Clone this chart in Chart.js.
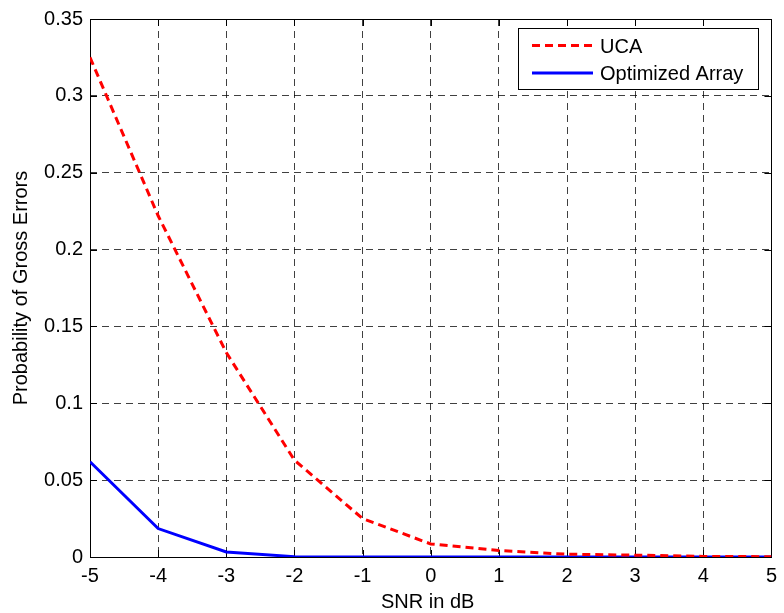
<!DOCTYPE html>
<html>
<head>
<meta charset="utf-8">
<title>Probability of Gross Errors vs SNR</title>
<script src="https://cdn.jsdelivr.net/npm/chart.js@4/dist/chart.umd.min.js"></script>
<style>
  html, body { margin: 0; padding: 0; background: #ffffff; }
  #wrap { width: 784px; height: 613px; position: relative; }
</style>
</head>
<body>
<div id="wrap"><canvas id="chart" width="784" height="613"></canvas></div>
<script>
// SNR sweep (dB) and gross-error probability for each array geometry
const snrDb = [-5, -4, -3, -2, -1, 0, 1, 2, 3, 4, 5];
const ucaErr = [0.325, 0.222, 0.133, 0.063, 0.025, 0.0085, 0.0042, 0.0018, 0.0012, 0.0004, 0.0002];
const optimizedErr = [0.062, 0.0185, 0.0033, 0.0002, 0, 0, 0, 0, 0, 0, 0];

// Axis tick values and their printed labels
const xTickValues = [-5, -4, -3, -2, -1, 0, 1, 2, 3, 4, 5];
const yTickValues = [0, 0.05, 0.1, 0.15, 0.2, 0.25, 0.3, 0.35];
const yTickLabels = ['0', '0.05', '0.1', '0.15', '0.2', '0.25', '0.3', '0.35'];

const seriesNames = ['UCA', 'Optimized Array'];
const xTitle = 'SNR in dB';
const yTitle = 'Probability of Gross Errors';

const FONT = '"Liberation Sans", Arial, Helvetica, sans-serif';

const toPoints = (xs, ys) => xs.map((x, i) => ({ x: x, y: ys[i] }));

// Solid box around the plot, small inward tick marks on all four sides
const framePlugin = {
  id: 'frame',
  beforeDatasetsDraw(chart) {
    const { ctx, chartArea: a, scales } = chart;
    const tl = 7;
    ctx.save();
    ctx.strokeStyle = '#000000';
    ctx.lineWidth = 1;
    ctx.setLineDash([]);
    ctx.beginPath();
    xTickValues.forEach(v => {
      const px = Math.round(scales.x.getPixelForValue(v)) + 0.5;
      ctx.moveTo(px, a.bottom); ctx.lineTo(px, a.bottom - tl);
      ctx.moveTo(px, a.top); ctx.lineTo(px, a.top + tl);
    });
    yTickValues.forEach(v => {
      const py = Math.round(scales.y.getPixelForValue(v)) + 0.5;
      ctx.moveTo(a.left, py); ctx.lineTo(a.left + tl, py);
      ctx.moveTo(a.right, py); ctx.lineTo(a.right - tl, py);
    });
    ctx.stroke();
    ctx.strokeRect(Math.round(a.left) + 0.5, Math.round(a.top) + 0.5,
                   Math.round(a.right - a.left), Math.round(a.bottom - a.top));
    ctx.restore();
  }
};

// Boxed legend in the upper right corner of the plot
const boxLegendPlugin = {
  id: 'boxLegend',
  afterDatasetsDraw(chart) {
    const { ctx } = chart;
    const bx = 518.5, by = 28.5, bw = 240, bh = 61;
    ctx.save();
    ctx.fillStyle = '#ffffff';
    ctx.fillRect(bx, by, bw, bh);
    ctx.strokeStyle = '#000000';
    ctx.lineWidth = 1;
    ctx.setLineDash([]);
    ctx.strokeRect(bx, by, bw, bh);
    const rows = [45.5, 73];
    chart.data.datasets.forEach((ds, i) => {
      const y = rows[i];
      ctx.strokeStyle = ds.borderColor;
      ctx.lineWidth = ds.borderWidth;
      ctx.setLineDash(ds.borderDash || []);
      ctx.beginPath();
      ctx.moveTo(532, y);
      ctx.lineTo(593, y);
      ctx.stroke();
      ctx.setLineDash([]);
      ctx.fillStyle = '#000000';
      ctx.font = '20px ' + FONT;
      ctx.textAlign = 'left';
      ctx.textBaseline = 'middle';
      ctx.fillText(ds.label, 600, y + 1.5);
    });
    ctx.restore();
  }
};

// Axis titles
const titlesPlugin = {
  id: 'axisTitles',
  afterDraw(chart) {
    const { ctx, chartArea: a } = chart;
    ctx.save();
    ctx.fillStyle = '#000000';
    ctx.font = '20px ' + FONT;
    ctx.textAlign = 'center';
    ctx.textBaseline = 'alphabetic';
    ctx.fillText(xTitle, (a.left + a.right) / 2 - 3, 608);
    ctx.translate(27, (a.top + a.bottom) / 2);
    ctx.rotate(-Math.PI / 2);
    ctx.fillText(yTitle, 0, 0);
    ctx.restore();
  }
};

const gridStyle = {
  color: 'rgba(0,0,0,0.75)',
  lineWidth: 1,
  drawTicks: false
};

new Chart(document.getElementById('chart'), {
  type: 'line',
  data: {
    datasets: [
      {
        label: seriesNames[0],
        data: toPoints(snrDb, ucaErr),
        borderColor: '#ff0000',
        borderWidth: 3,
        borderDash: [8, 5],
        pointRadius: 0,
        tension: 0,
        fill: false
      },
      {
        label: seriesNames[1],
        data: toPoints(snrDb, optimizedErr),
        borderColor: '#0000ff',
        borderWidth: 3,
        pointRadius: 0,
        tension: 0,
        fill: false
      }
    ]
  },
  options: {
    responsive: false,
    animation: false,
    events: [],
    layout: { padding: { left: 0, top: 16, right: 10, bottom: 0 } },
    plugins: {
      legend: { display: false },
      tooltip: { enabled: false }
    },
    scales: {
      x: {
        type: 'linear',
        min: -5,
        max: 5,
        afterBuildTicks: s => { s.ticks = xTickValues.map(v => ({ value: v })); },
        afterFit: s => { s.height = 56; },
        ticks: {
          color: '#000000',
          font: { family: FONT, size: 20 },
          padding: 7,
          maxRotation: 0,
          autoSkip: false,
          callback: v => String(v)
        },
        grid: gridStyle,
        border: { display: false, dash: [7, 5] }
      },
      y: {
        type: 'linear',
        min: 0,
        max: 0.35,
        afterBuildTicks: s => { s.ticks = yTickValues.map(v => ({ value: v })); },
        afterFit: s => { s.width = 90; },
        ticks: {
          color: '#000000',
          font: { family: FONT, size: 20 },
          padding: 7,
          autoSkip: false,
          callback: (v, i) => yTickLabels[i]
        },
        grid: gridStyle,
        border: { display: false, dash: [7, 5] }
      }
    }
  },
  plugins: [framePlugin, boxLegendPlugin, titlesPlugin]
});
</script>
</body>
</html>
